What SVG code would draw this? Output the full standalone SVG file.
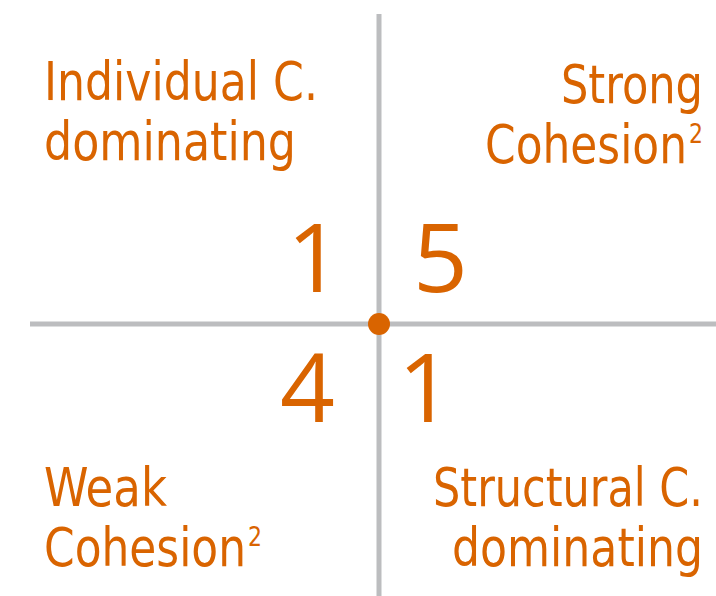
<svg xmlns="http://www.w3.org/2000/svg" width="716" height="596" viewBox="0 0 716 596">
<style>
.t{font-family:"DejaVu Sans Condensed","Liberation Sans",sans-serif;fill:#d96400;font-size:53px}
.s{font-family:"DejaVu Sans Condensed","Liberation Sans",sans-serif;fill:#d96400;font-size:26px}
.n{font-family:"Open Sans","Roboto",sans-serif;fill:#d96400;font-size:96px}
.ax{stroke:#bcbdbf;stroke-width:5;fill:none}
</style>
<rect width="716" height="596" fill="#ffffff"/>
<g id="axes">
<line class="ax" x1="379" y1="14" x2="379" y2="596"/>
<line class="ax" x1="30" y1="324" x2="716" y2="324"/>
<circle cx="379" cy="324" r="11" fill="#d96400"/>
</g>
<g id="q-top-left">
<text class="t" x="44" y="100" textLength="274" lengthAdjust="spacingAndGlyphs">Individual C.</text>
<text class="t" x="44" y="160" textLength="252" lengthAdjust="spacingAndGlyphs">dominating</text>
<text class="n" x="287" y="292">1</text>
</g>
<g id="q-top-right">
<text class="t" x="561" y="103" textLength="142" lengthAdjust="spacingAndGlyphs">Strong</text>
<text class="t" x="485" y="163" textLength="202" lengthAdjust="spacingAndGlyphs">Cohesion</text>
<text class="s" x="689" y="143" textLength="14" lengthAdjust="spacingAndGlyphs">2</text>
<text class="n" x="413" y="292">5</text>
</g>
<g id="q-bottom-left">
<text class="t" x="44" y="506" textLength="123" lengthAdjust="spacingAndGlyphs">Weak</text>
<text class="t" x="44" y="566" textLength="202" lengthAdjust="spacingAndGlyphs">Cohesion</text>
<text class="s" x="248" y="546" textLength="14" lengthAdjust="spacingAndGlyphs">2</text>
<text class="n" x="280" y="422">4</text>
</g>
<g id="q-bottom-right">
<text class="t" x="433" y="506" textLength="270" lengthAdjust="spacingAndGlyphs">Structural C.</text>
<text class="t" x="452" y="566" textLength="251" lengthAdjust="spacingAndGlyphs">dominating</text>
<text class="n" x="398" y="422">1</text>
</g>
</svg>
